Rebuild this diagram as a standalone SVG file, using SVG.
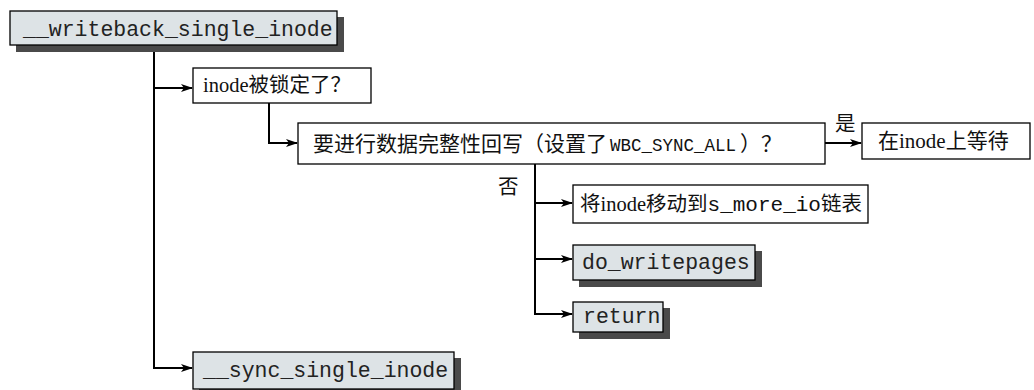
<svg xmlns="http://www.w3.org/2000/svg" width="1034" height="390" viewBox="0 0 1034 390">
<defs>
<style>
.box{fill:#ffffff;stroke:#000;stroke-width:1.3}
.fbox{fill:#dde3e6;stroke:#000;stroke-width:1.3}
.sh{fill:#4a4a4a}
.t{font-family:"Liberation Serif","Noto Sans CJK SC",serif;font-size:20.5px;fill:#111}
.m{font-family:"Liberation Mono",monospace;font-size:21.5px;fill:#222}
.ms{font-family:"Liberation Mono",monospace;font-size:17.5px}
.mm{font-family:"Liberation Mono",monospace;font-size:21px}
.c{fill:none;stroke:#000;stroke-width:2}
</style>
<marker id="ah" markerWidth="12" markerHeight="10" refX="11" refY="5" orient="auto" markerUnits="userSpaceOnUse">
<path d="M0,1 L12,5 L0,9 L3,5 z" fill="#000"/>
</marker>
</defs>
<rect width="1034" height="390" fill="#ffffff"/>
<g id="connectors">
<path class="c" d="M154,45 V368 H192" marker-end="url(#ah)"/>
<path class="c" d="M154,88 H192" marker-end="url(#ah)"/>
<path class="c" d="M269,103 V143 H297" marker-end="url(#ah)"/>
<path class="c" d="M825,143 H861" marker-end="url(#ah)"/>
<path class="c" d="M535,164 V314 H572" marker-end="url(#ah)"/>
<path class="c" d="M535,203 H572" marker-end="url(#ah)"/>
<path class="c" d="M535,259 H572" marker-end="url(#ah)"/>
<text class="t" x="835" y="131">是</text>
<text class="t" x="498" y="194">否</text>
</g>
<g id="n_writeback">
<rect class="sh" x="16" y="17" width="328" height="35"/>
<rect class="fbox" x="10" y="11" width="327" height="34"/>
<text class="m" x="23" y="36">__writeback_single_inode</text>
</g>
<g id="n_locked">
<rect class="box" x="193" y="68" width="178" height="35"/>
<text class="t" x="203" y="92">inode被锁定了？</text>
</g>
<g id="n_sync_all">
<rect class="box" x="298" y="123" width="527" height="41"/>
<text class="t" x="313" y="151" style="font-size:21px">要进行数据完整性回写（设置了<tspan class="ms" dx="3">WBC_SYNC_ALL</tspan><tspan dx="4">）？</tspan></text>
</g>
<g id="n_wait">
<rect class="box" x="862" y="123" width="168" height="36"/>
<text class="t" x="878" y="148" style="font-size:21px">在inode上等待</text>
</g>
<g id="n_move">
<rect class="box" x="573" y="185" width="295" height="38"/>
<text class="t" x="580" y="211">将inode移动到<tspan class="mm">s_more_io</tspan>链表</text>
</g>
<g id="n_do_writepages">
<rect class="sh" x="579" y="251" width="183" height="36"/>
<rect class="fbox" x="573" y="245" width="182" height="35"/>
<text class="m" x="582" y="269">do_writepages</text>
</g>
<g id="n_return">
<rect class="sh" x="579" y="308" width="91" height="31"/>
<rect class="fbox" x="573" y="302" width="90" height="30"/>
<text class="m" x="583" y="323">return</text>
</g>
<g id="n_sync_single">
<rect class="sh" x="199" y="358" width="262" height="38"/>
<rect class="fbox" x="193" y="352" width="261" height="37"/>
<text class="m" x="203" y="377">__sync_single_inode</text>
</g>
</svg>
